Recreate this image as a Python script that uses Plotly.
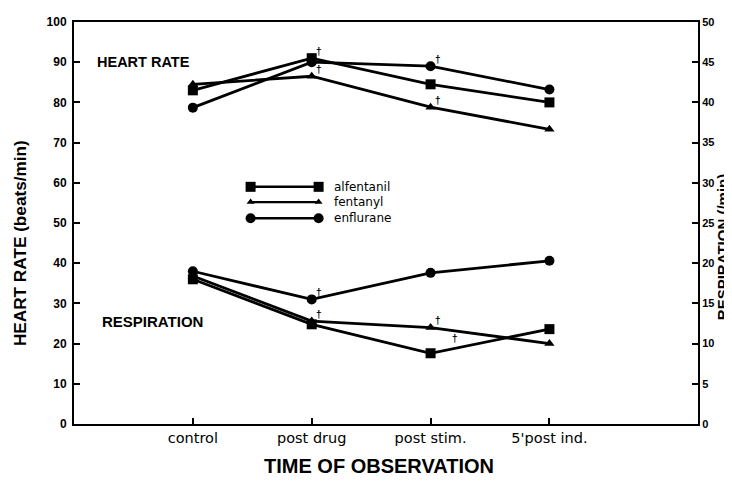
import plotly.graph_objects as go

categories = ["control", "post drug", "post stim.", "5'post ind."]
x_pos = [1, 2, 3, 4]

series_names = ["alfentanil", "fentanyl", "enflurane"]
symbols = ["square", "triangle-up", "circle"]

hr_alfentanil = [83, 91, 84.5, 80]
hr_fentanyl = [84.5, 86.5, 78.8, 73.3]
hr_enflurane = [78.7, 90, 89, 83.2]

resp_alfentanil = [18, 12.4, 8.8, 11.8]
resp_fentanyl = [18.4, 12.8, 12, 10]
resp_enflurane = [19, 15.5, 18.8, 20.3]

# dagger marks: (x position, value)
hr_daggers = [(2, 91), (2, 86.5), (3, 89), (3, 78.8)]
resp_daggers = [(2, 15.5), (2, 12.8), (3, 12), (3.15, 9.8)]

font = "Liberation Sans, Arial, sans-serif"
wide = "DejaVu Sans, sans-serif"
fig = go.Figure()

hr_all = [hr_alfentanil, hr_fentanyl, hr_enflurane]
resp_all = [resp_alfentanil, resp_fentanyl, resp_enflurane]
msizes = [10, 9, 10]

for name, sym, vals, ms in zip(series_names, symbols, hr_all, msizes):
    fig.add_trace(go.Scatter(x=x_pos, y=vals, mode="lines+markers", name=name,
                             line=dict(color="black", width=2.8),
                             marker=dict(symbol=sym, size=ms, color="black"),
                             showlegend=False, yaxis="y"))
for name, sym, vals, ms in zip(series_names, symbols, resp_all, msizes):
    fig.add_trace(go.Scatter(x=x_pos, y=vals, mode="lines+markers", name=name,
                             line=dict(color="black", width=2.8),
                             marker=dict(symbol=sym, size=ms, color="black"),
                             showlegend=False, yaxis="y2"))

# custom legend on hidden overlay axes
leg_rows = [0.590, 0.552, 0.512]
leg_sizes = [10, 7, 10]
for name, sym, yy, sz in zip(series_names, symbols, leg_rows, leg_sizes):
    fig.add_trace(go.Scatter(x=[0.283, 0.392], y=[yy, yy], mode="lines+markers",
                             line=dict(color="black", width=2.4),
                             marker=dict(symbol=sym, size=sz, color="black"),
                             showlegend=False, xaxis="x2", yaxis="y3",
                             hoverinfo="skip"))
    fig.add_annotation(x=0.414, y=yy, xref="x2", yref="y3", text=name,
                       showarrow=False, xanchor="left", yanchor="middle",
                       font=dict(family=wide, size=12, color="#000000"))

for xx, vv in hr_daggers:
    fig.add_annotation(x=xx, y=vv, xref="x", yref="y", text="<b>†</b>", showarrow=False,
                       xanchor="center", yanchor="middle",
                       xshift=7, yshift=7, font=dict(family=font, size=10, color="#000000"))
for xx, vv in resp_daggers:
    fig.add_annotation(x=xx, y=vv, xref="x", yref="y2", text="<b>†</b>", showarrow=False,
                       xanchor="center", yanchor="middle",
                       xshift=7, yshift=7, font=dict(family=font, size=10, color="#000000"))

fig.add_annotation(x=0.034, y=0.9, xref="paper", yref="paper", text="<b>HEART RATE</b>",
                   showarrow=False, xanchor="left", yanchor="middle",
                   font=dict(family=font, size=14.5, color="#000000"))
fig.add_annotation(x=0.042, y=0.254, xref="paper", yref="paper", text="<b>RESPIRATION</b>",
                   showarrow=False, xanchor="left", yanchor="middle",
                   font=dict(family=font, size=15, color="#000000"))

# axis titles as annotations
fig.add_annotation(x=-0.0865, y=0.45, xref="paper", yref="paper",
                   text="<b>HEART RATE (beats/min)</b>", textangle=-90, showarrow=False,
                   xanchor="center", yanchor="middle",
                   font=dict(family=font, size=17.2, color="#000000"))
fig.add_annotation(x=1.0385, y=0.44, xref="paper", yref="paper",
                   text="<b>RESPIRATION (/min)</b>", textangle=-90, showarrow=False,
                   xanchor="center", yanchor="middle",
                   font=dict(family=font, size=15, color="#000000"))
fig.add_annotation(x=0.489, y=-0.104, xref="paper", yref="paper",
                   text="<b>TIME OF OBSERVATION</b>", showarrow=False,
                   xanchor="center", yanchor="middle",
                   font=dict(family=font, size=20, color="#000000"))

fig.update_layout(
    width=724, height=477,
    margin=dict(l=66, r=34, t=14, b=61, autoexpand=False),
    paper_bgcolor="white", plot_bgcolor="white",
    font=dict(family=font, color="black"),
    xaxis=dict(range=[0, 5.25], tickvals=x_pos, ticktext=categories,
               showline=True, linecolor="black", linewidth=2, mirror=True,
               ticks="inside", ticklen=6, tickwidth=1.5, tickcolor="black",
               showgrid=False, zeroline=False, automargin=False,
               tickfont=dict(family=wide, size=14.5)),
    yaxis=dict(range=[0, 100], tickvals=list(range(0, 101, 10)),
               showline=True, linecolor="black", linewidth=2,
               ticks="inside", ticklen=6, tickwidth=1.5, tickcolor="black",
               showgrid=False, zeroline=False, automargin=False,
               ticklabelstandoff=3,
               tickfont=dict(family=font, size=12, weight="bold")),
    yaxis2=dict(range=[0, 50], tickvals=list(range(0, 51, 5)), overlaying="y",
                side="right", showline=True, linecolor="black", linewidth=2,
                ticks="inside", ticklen=6, tickwidth=1.5, tickcolor="black",
                showgrid=False, zeroline=False, automargin=False,
                tickfont=dict(family=font, size=11, weight="bold")),
    xaxis2=dict(range=[0, 1], overlaying="x", visible=False),
    yaxis3=dict(range=[0, 1], overlaying="y", visible=False),
)

fig.write_html("out.html")
